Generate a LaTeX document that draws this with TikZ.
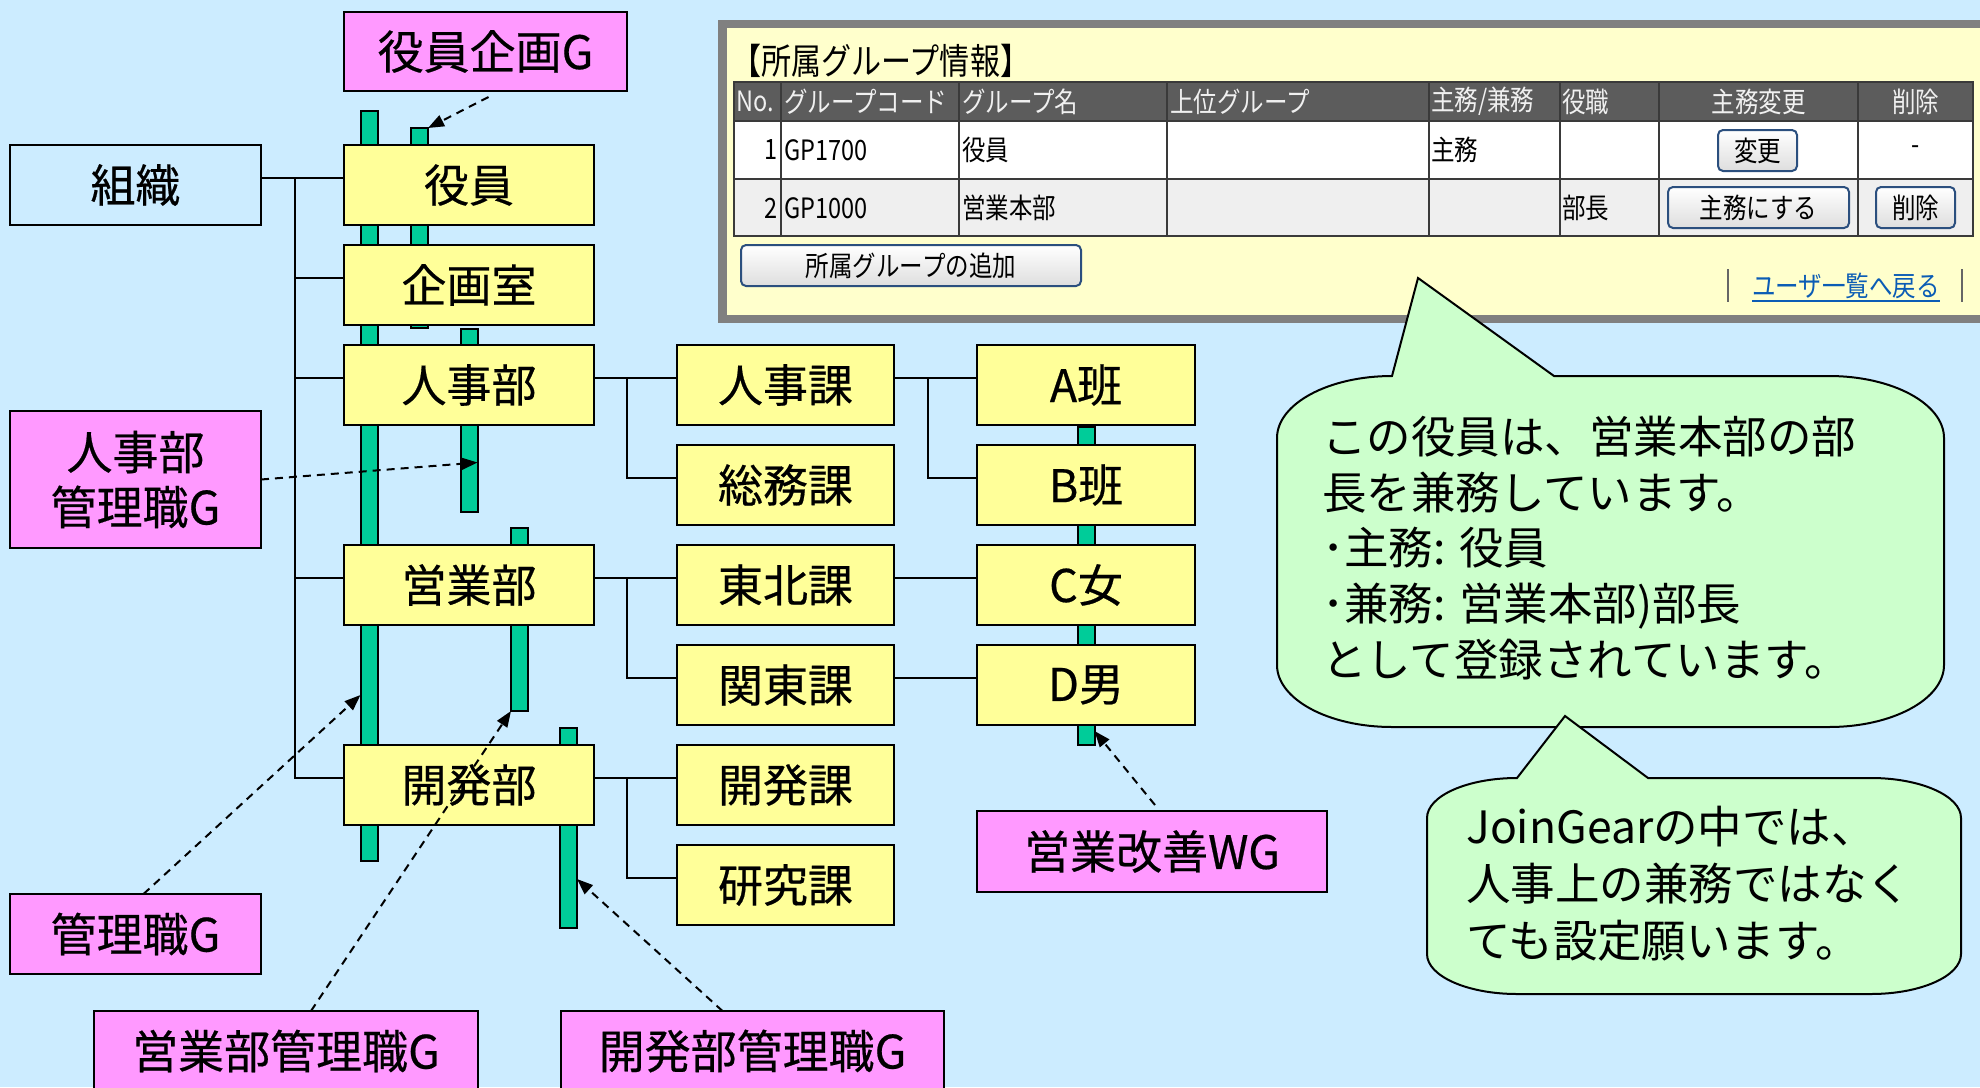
\documentclass[tikz,border=0pt]{standalone}
\usepackage{fontspec}
\setmainfont{Noto Sans CJK JP}
\newfontfamily\boxfont{Noto Sans CJK JP}[FakeBold=0.45]
\usetikzlibrary{arrows.meta}
\definecolor{bgblue}{HTML}{CCECFF}
\definecolor{boxyellow}{HTML}{FFFF99}
\definecolor{boxpink}{HTML}{FF99FF}
\definecolor{bargreen}{HTML}{00CC99}
\definecolor{callgreen}{HTML}{CCFFCC}
\definecolor{panelyellow}{HTML}{FFFFCC}
\definecolor{panelgray}{HTML}{808080}
\definecolor{hdrgray}{HTML}{5C5C5C}
\definecolor{rowgray}{HTML}{EFEFEF}
\definecolor{tline}{HTML}{3A3A3A}
\definecolor{btnblue}{HTML}{2B4F7E}
\definecolor{linkblue}{HTML}{0B5CB5}
\newcommand\tabtxt[1]{\scalebox{0.94}[1.12]{#1}}
\begin{document}
\begin{tikzpicture}[x=1pt,y=-1pt,
  ybox/.style={draw=black, fill=boxyellow, line width=2.5pt, minimum height=80pt,
    inner sep=0pt, outer sep=0pt, font=\boxfont\fontsize{45}{55}\selectfont},
  dept/.style={ybox, minimum width=250pt},
  sec/.style={ybox, minimum width=217pt},
  team/.style={ybox, minimum width=218pt},
  pbox/.style={ybox, fill=boxpink, align=center, font=\boxfont\fontsize{46}{55}\selectfont},
  bar/.style={draw=black, fill=bargreen, line width=2pt, inner sep=0pt, outer sep=0pt, minimum width=17pt},
  conn/.style={line width=2pt},
  darr/.style={line width=2pt, dash pattern=on 8pt off 6pt, -{Triangle[length=16pt,width=12pt]}},
  callout/.style={draw=black, fill=callgreen, line width=2pt},
  ctext/.style={inner sep=0pt, anchor=west, align=left},
  tx/.style={inner sep=0pt, anchor=west, font=\fontsize{25}{28}\selectfont},
  hx/.style={tx, text=white!94!black},
  btn/.style={draw=btnblue, line width=2pt, rounded corners=5pt, top color=white, bottom color=black!13,
    minimum height=41pt, inner sep=0pt, font=\fontsize{25}{28}\selectfont},
  tl/.style={draw=tline, line width=2pt}
]
\useasboundingbox (0,0) rectangle (1980,1087);
\clip (0,0) rectangle (1980,1087);
\fill[bgblue] (0,0) rectangle (1980,1087);

% ---------- screenshot panel ----------
\fill[panelgray] (718,20) rectangle (1995,323);
\fill[panelyellow] (727,28) rectangle (1995,315);
\node[inner sep=0pt, anchor=west, font=\fontsize{32}{34}\selectfont] (ttl) at (731,61) {\tabtxt{【所属グループ情報】}};
\fill[hdrgray] (734,82) rectangle (1973,121);
\fill[white] (734,121) rectangle (1973,179);
\fill[rowgray] (734,179) rectangle (1973,236);
\draw[tl] (734,82) rectangle (1973,236);
\draw[tl] (734,121) -- (1973,121);
\draw[tl] (734,179) -- (1973,179);
\foreach \cx in {781,959,1167,1429,1560,1659,1858} {\draw[tl] (\cx,82) -- (\cx,236);}
% header
\node[hx] (h1) at (736,101.5) {\tabtxt{No.}};
\node[hx] (h2) at (784,101.5) {\tabtxt{グループコード}};
\node[hx] (h3) at (962,101.5) {\tabtxt{グループ名}};
\node[hx] (h4) at (1170,101.5) {\tabtxt{上位グループ}};
\node[hx] (h5) at (1431,101.5) {\tabtxt{主務/兼務}};
\node[hx] (h6) at (1562,101.5) {\tabtxt{役職}};
\node[hx, anchor=center] (h7) at (1758.5,101.5) {\tabtxt{主務変更}};
\node[hx, anchor=center] (h8) at (1915.5,101.5) {\tabtxt{削除}};
% row 1
\node[tx, anchor=east] (r1a) at (778,150) {\tabtxt{1}};
\node[tx] (r1b) at (784,150) {\tabtxt{GP1700}};
\node[tx] (r1c) at (962,150) {\tabtxt{役員}};
\node[tx] (r1e) at (1431,150) {\tabtxt{主務}};
\node[btn, minimum width=79pt] (bhenko) at (1757.5,150.5) {\tabtxt{変更}};
\node[tx, anchor=center] (r1h) at (1915.5,150) {\tabtxt{-}};
% row 2
\node[tx, anchor=east] (r2a) at (778,208) {\tabtxt{2}};
\node[tx] (r2b) at (784,208) {\tabtxt{GP1000}};
\node[tx] (r2c) at (962,208) {\tabtxt{営業本部}};
\node[tx] (r2f) at (1562,208) {\tabtxt{部長}};
\node[btn, minimum width=181pt] (bshumu) at (1758.5,207.5) {\tabtxt{主務にする}};
\node[btn, minimum width=79pt] (bsakujo) at (1915.5,207.5) {\tabtxt{削除}};
% add button and link
\node[btn, minimum width=340pt] (badd) at (911,265.5) {\tabtxt{所属グループの追加}};
\node[inner sep=0pt, text=linkblue, font=\fontsize{25}{28}\selectfont] (link) at (1846,286) {\tabtxt{ユーザ一覧へ戻る}};
\draw[linkblue, line width=1.6pt] ([yshift=-2pt]link.south west) -- ([yshift=-2pt]link.south east);
\draw[black!60, line width=2pt] (1728,269) -- (1728,302);
\draw[black!60, line width=2pt] (1962,269) -- (1962,302);

% ---------- green bars (behind boxes) ----------
\node[bar, minimum height=750pt] (bar1) at (369,486) {};
\node[bar, minimum height=200pt] (bar2) at (419.5,228) {};
\node[bar, minimum height=183pt] (bar3) at (469,420.5) {};
\node[bar, minimum height=183pt] (bar4) at (519.5,619.5) {};
\node[bar, minimum height=200pt] (bar5) at (568.5,828) {};
\node[bar, minimum height=318pt] (bar6) at (1086,586) {};

% ---------- boxes ----------
\node[ybox, fill=bgblue, minimum width=251pt] (soshiki) at (135.5,185) {組織};
\node[dept] (yakuin) at (469,185) {役員};
\node[dept] (kikaku) at (469,285) {企画室};
\node[dept] (jinjibu) at (469,385) {人事部};
\node[dept] (eigyobu) at (469,585) {営業部};
\node[dept] (kaihatsubu) at (469,785) {開発部};
\node[sec] (jinjika) at (785.5,385) {人事課};
\node[sec] (somuka) at (785.5,485) {総務課};
\node[sec] (tohokuka) at (785.5,585) {東北課};
\node[sec] (kantoka) at (785.5,685) {関東課};
\node[sec] (kaihatsuka) at (785.5,785) {開発課};
\node[sec] (kenkyuka) at (785.5,885) {研究課};
\node[team] (ahan) at (1086,385) {A班};
\node[team] (bhan) at (1086,485) {B班};
\node[team] (cjo) at (1086,585) {C女};
\node[team] (ddan) at (1086,685) {D男};

\node[pbox, minimum width=283pt, minimum height=79pt] (kG) at (485.5,51.5) {役員企画G};
\node[pbox, minimum width=251pt, minimum height=137pt] (jkG) at (135.5,479.5) {人事部\\管理職G};
\node[pbox, minimum width=251pt] (kanriG) at (135.5,934) {管理職G};
\node[pbox, minimum width=384pt] (eikG) at (286,1051) {営業部管理職G};
\node[pbox, minimum width=383pt] (kaikG) at (752.5,1051) {開発部管理職G};
\node[pbox, minimum width=350pt, minimum height=81pt] (wg) at (1152,851.5) {営業改善WG};

% ---------- connectors ----------
\draw[conn] ([yshift=7pt]yakuin.west) -- ([yshift=7pt]soshiki.east);
\draw[conn] ([yshift=7pt]kaihatsubu.west) -- ++(-49,0) |- ([yshift=7pt]soshiki.east);
\draw[conn] ([yshift=7pt]kikaku.west) -- ++(-49,0);
\draw[conn] ([yshift=7pt]jinjibu.west) -- ++(-49,0);
\draw[conn] ([yshift=7pt]eigyobu.west) -- ++(-49,0);

\draw[conn] ([yshift=7pt]jinjibu.east) -- ([yshift=7pt]jinjika.west);
\draw[conn] ([yshift=7pt]somuka.west) -- ++(-50,0) |- ([yshift=7pt]jinjibu.east);
\draw[conn] ([yshift=7pt]eigyobu.east) -- ([yshift=7pt]tohokuka.west);
\draw[conn] ([yshift=7pt]kantoka.west) -- ++(-50,0) |- ([yshift=7pt]eigyobu.east);
\draw[conn] ([yshift=7pt]kaihatsubu.east) -- ([yshift=7pt]kaihatsuka.west);
\draw[conn] ([yshift=7pt]kenkyuka.west) -- ++(-50,0) |- ([yshift=7pt]kaihatsubu.east);

\draw[conn] ([yshift=7pt]jinjika.east) -- ([yshift=7pt]ahan.west);
\draw[conn] ([yshift=7pt]bhan.west) -- ++(-49,0) |- ([yshift=7pt]jinjika.east);
\draw[conn] ([yshift=7pt]tohokuka.east) -- ([yshift=7pt]cjo.west);
\draw[conn] ([yshift=7pt]kantoka.east) -- ([yshift=7pt]ddan.west);

% ---------- callouts ----------
\draw[callout] (1392,376) -- (1418,278) -- (1554,376) -- (1829,376)
  .. controls (1892.5,376) and (1944,403.8) .. (1944,438)
  -- (1944,665)
  .. controls (1944,699.2) and (1892.5,727) .. (1829,727)
  -- (1392,727)
  .. controls (1328.5,727) and (1277,699.2) .. (1277,665)
  -- (1277,438)
  .. controls (1277,403.8) and (1328.5,376) .. (1392,376) -- cycle;
\node[ctext, font=\fontsize{44.5}{55.7}\selectfont] (c1text) at (1322,548)
  {この役員は、営業本部の部\\長を兼務しています。\\･主務: 役員\\･兼務: 営業本部)部長\\として登録されています。};

\draw[callout] (1517,778) -- (1565,716) -- (1648,778) -- (1871,778)
  .. controls (1920.7,778) and (1961,795.9) .. (1961,818)
  -- (1961,954)
  .. controls (1961,976.1) and (1920.7,994) .. (1871,994)
  -- (1517,994)
  .. controls (1467.3,994) and (1427,976.1) .. (1427,954)
  -- (1427,818)
  .. controls (1427,795.9) and (1467.3,778) .. (1517,778) -- cycle;
\node[ctext, font=\fontsize{44.5}{57}\selectfont] (c2text) at (1466,884)
  {JoinGearの中では、\\人事上の兼務ではなく\\ても設定願います。};

% ---------- dashed arrows ----------
\draw[darr] ([xshift=3pt,yshift=-6pt]kG.south) -- (bar2.north east);
\draw[darr] (jkG.east) -- ([yshift=-42pt]bar3.east);
\draw[darr] ([xshift=8pt]kanriG.north) -- ([yshift=-209pt]bar1.west);
\draw[darr] ([xshift=25pt]eikG.north) -- (bar4.south west);
\draw[darr] ([xshift=-30pt]kaikG.north) -- ([yshift=-51pt]bar5.east);
\draw[darr] ([xshift=3pt,yshift=6pt]wg.north) -- ([yshift=-145pt]bar6.east);
\end{tikzpicture}
\end{document}
